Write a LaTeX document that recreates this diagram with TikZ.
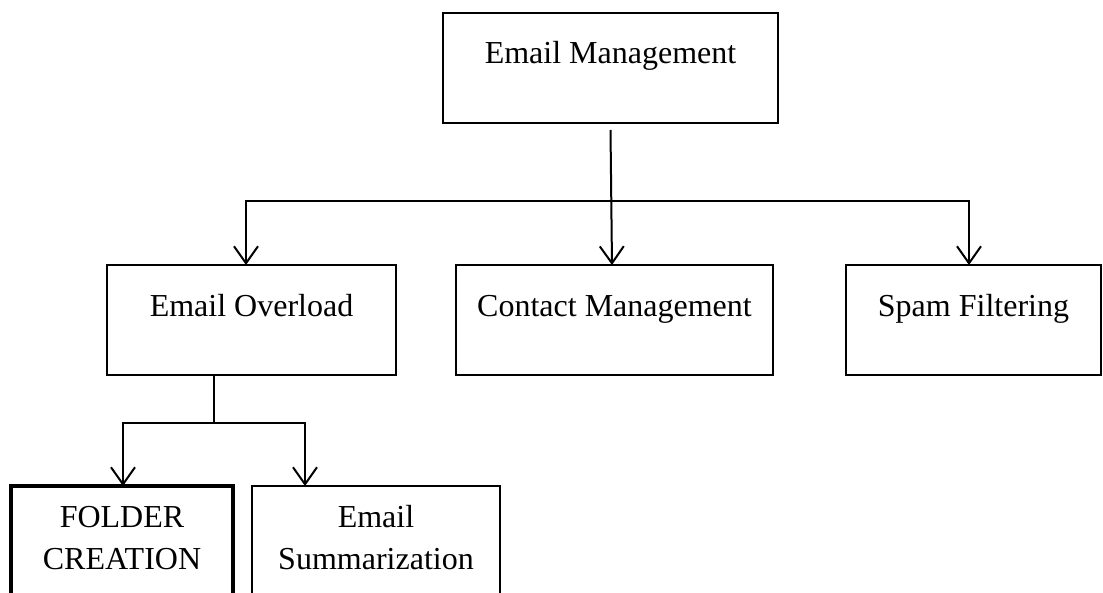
\documentclass[tikz,border=0pt]{standalone}
\usepackage{fontspec}
\setmainfont{Liberation Serif}
\usepackage{tikz}
\usetikzlibrary{arrows.meta,positioning}

\begin{document}
\begin{tikzpicture}[
  box/.style={draw, line width=1pt, inner sep=0pt, outer sep=0pt, align=center,
              font=\fontsize{16pt}{21pt}\selectfont,
              text height=25.5pt, text depth=29.5pt},
  lowbox/.style={box, text height=41.5pt, text depth=13.5pt},
  arr/.style={-{Straight Barb[length=8.5pt,width=12pt]}, line width=1pt},
  link/.style={line width=0.8pt}
]
\useasboundingbox (0,0) rectangle (551.5pt,-296.5pt);

% top level
\node[box, anchor=north west, minimum width=167.5pt] (mgmt) at (221.5pt,-6.5pt) {Email Management};

% second level
\node[box, anchor=north west, minimum width=144.5pt] (overload) at (53.5pt,-132.5pt) {Email Overload};
\node[box, right=30pt of overload, minimum width=158.5pt] (contact) {Contact Management};
\node[box, right=36.5pt of contact, minimum width=127.5pt] (spam) {Spam Filtering};

% third level
\node[lowbox, anchor=north west, minimum width=111pt, line width=1.7pt] (folder) at (5.5pt,-243pt) {FOLDER\\CREATION};
\node[lowbox, right=9.5pt of folder, minimum width=124pt, line width=1.2pt] (summ) {Email\\Summarization};

\coordinate (hub) at ([yshift=-39pt]mgmt.south);
\coordinate (fork) at ([xshift=-18.75pt,yshift=-24pt]overload.south);

\draw[arr] ([yshift=-3.5pt]mgmt.south) -- ([xshift=-1.25pt]contact.north);
\draw[arr] (hub) -| ([xshift=-2.75pt]overload.north);
\draw[arr] (hub) -| ([xshift=-2.25pt]spam.north);

\draw[link] ([xshift=-18.75pt]overload.south) -- (fork);
\draw[arr] (fork) -| ([xshift=0.5pt]folder.north);
\draw[arr] (fork) -| ([xshift=-35.5pt]summ.north);
\end{tikzpicture}
\end{document}
